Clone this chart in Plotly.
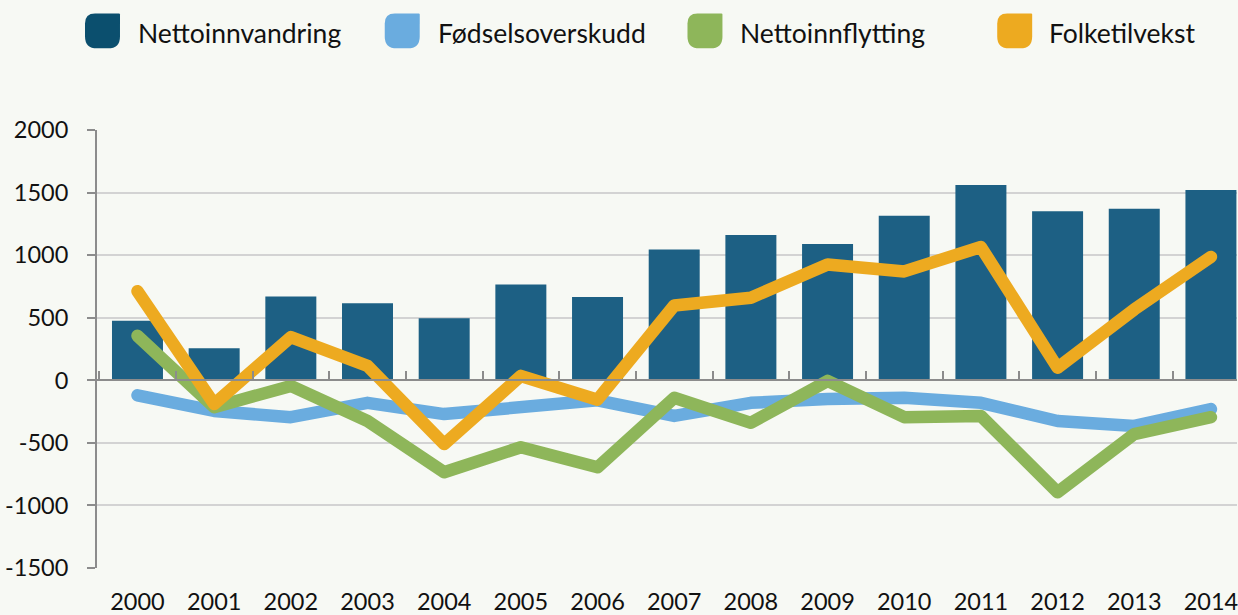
import plotly.graph_objects as go

years = [str(y) for y in range(2000, 2015)]
nettoinnvandring = [475, 255, 670, 615, 495, 765, 665, 1045, 1160, 1090, 1315, 1560, 1350, 1370, 1520]
fodselsoverskudd = [-120, -245, -295, -180, -270, -220, -160, -285, -180, -150, -140, -180, -325, -365, -230]
nettoinnflytting = [355, -215, -45, -325, -735, -535, -695, -140, -340, -5, -295, -285, -895, -430, -295]
folketilvekst = [712, -190, 345, 115, -510, 35, -155, 598, 660, 925, 870, 1065, 100, 566, 986]
y_ticks = [-1500, -1000, -500, 0, 500, 1000, 1500, 2000]

series_names = ["Nettoinnvandring", "Fødselsoverskudd", "Nettoinnflytting", "Folketilvekst"]
legend_colors = ["#0B4F6E", "#6AACDF", "#8EB65A", "#EDAA20"]
BAR_C = "#1D6084"
BLUE = "#6AACDF"
GREEN = "#8EB65A"
ORANGE = "#EDAA20"
BG = "#F7F9F4"
FONT = "Lato"

W, H = 1238, 615
ML, MR, MT, MB = 97, 0, 130, 45
PW, PH = W - ML - MR, H - MT - MB
XR = [-0.528, 14.34]

fig = go.Figure()
fig.add_trace(go.Bar(x=years, y=nettoinnvandring, marker=dict(color=BAR_C, line=dict(width=0)),
                     width=0.665, name=series_names[0], xaxis="x", yaxis="y", showlegend=False))
for vals, col, nm in [(fodselsoverskudd, BLUE, series_names[1]),
                      (nettoinnflytting, GREEN, series_names[2]),
                      (folketilvekst, ORANGE, series_names[3])]:
    fig.add_trace(go.Scatter(x=years, y=vals, mode="lines", line=dict(color=col, width=12.5),
                             name=nm, xaxis="x2", yaxis="y", showlegend=False))

def px2paper(px, py):
    return (px - ML) / PW, (H - MB - py) / PH

def leaf_path(x0, y0, x1, y1, rtl=10, rtr=1, rbr=12, rbl=12):
    def P(x, y):
        a, b = px2paper(x, y)
        return f"{a:.5f},{b:.5f}"
    d = f"M {P(x0 + rtl, y0)} L {P(x1 - rtr, y0)} Q {P(x1, y0)} {P(x1, y0 + rtr)} "
    d += f"L {P(x1, y1 - rbr)} Q {P(x1, y1)} {P(x1 - rbr, y1)} "
    d += f"L {P(x0 + rbl, y1)} Q {P(x0, y1)} {P(x0, y1 - rbl)} "
    d += f"L {P(x0, y0 + rtl)} Q {P(x0, y0)} {P(x0 + rtl, y0)} Z"
    return d

icon_x = [85, 385, 688, 998]
text_x = [136, 436, 739, 1048]
shapes = []
annotations = []
for ix, tx, nm, col in zip(icon_x, text_x, series_names, legend_colors):
    shapes.append(dict(type="path", xref="paper", yref="paper",
                       path=leaf_path(ix, 13, ix + 35, 48), fillcolor=col, line=dict(width=0)))
    ax, ay = px2paper(tx, 33)
    annotations.append(dict(x=ax, y=ay, xref="paper", yref="paper", text=nm, showarrow=False,
                            xanchor="left", yanchor="middle", font=dict(size=26.5, color="#111", family=FONT)))

fig.update_layout(
    width=W, height=H,
    margin=dict(l=ML, r=MR, t=MT, b=MB, pad=0),
    paper_bgcolor=BG, plot_bgcolor=BG,
    font=dict(family=FONT, size=23, color="#111"),
    showlegend=False,
    shapes=shapes, annotations=annotations,
    xaxis=dict(type="category", categoryorder="array", categoryarray=years, range=XR,
               showline=False, showgrid=False, zeroline=False, ticks="",
               tickfont=dict(size=23.5, color="#111", family=FONT), ticklabelstandoff=17,
               fixedrange=True),
    xaxis2=dict(type="category", categoryorder="array", categoryarray=years, range=XR,
                overlaying="x", anchor="free", position=1500 / 3500, side="bottom",
                showline=True, linecolor="#8C8C8C", linewidth=2,
                ticks="inside", tickson="boundaries", ticklen=8, tickcolor="#8C8C8C", tickwidth=2,
                showticklabels=False, showgrid=False, zeroline=False),
    yaxis=dict(range=[-1500, 2000], tickvals=y_ticks, ticktext=[str(v) for v in y_ticks],
               showline=True, linecolor="#8C8C8C", linewidth=2,
               ticks="outside", ticklen=8, tickcolor="#8C8C8C", tickwidth=2,
               showgrid=True, gridcolor="#D3D3D3", gridwidth=1.5, zeroline=False,
               tickfont=dict(size=23.5, color="#111", family=FONT), ticklabelstandoff=14),
)

post = (
    f"document.body.style.margin='0';document.body.style.background='{BG}';"
    "var gd=document.getElementById('{plot_id}');"
    "function roundLines(){document.querySelectorAll('.scatterlayer path.js-line').forEach(function(p){"
    "p.style.strokeLinejoin='round';p.style.strokeLinecap='round';});}"
    "roundLines();if(gd&&gd.on){gd.on('plotly_afterplot',roundLines);}"
)
fig.write_html("out.html", config={"displayModeBar": False}, post_script=post)
